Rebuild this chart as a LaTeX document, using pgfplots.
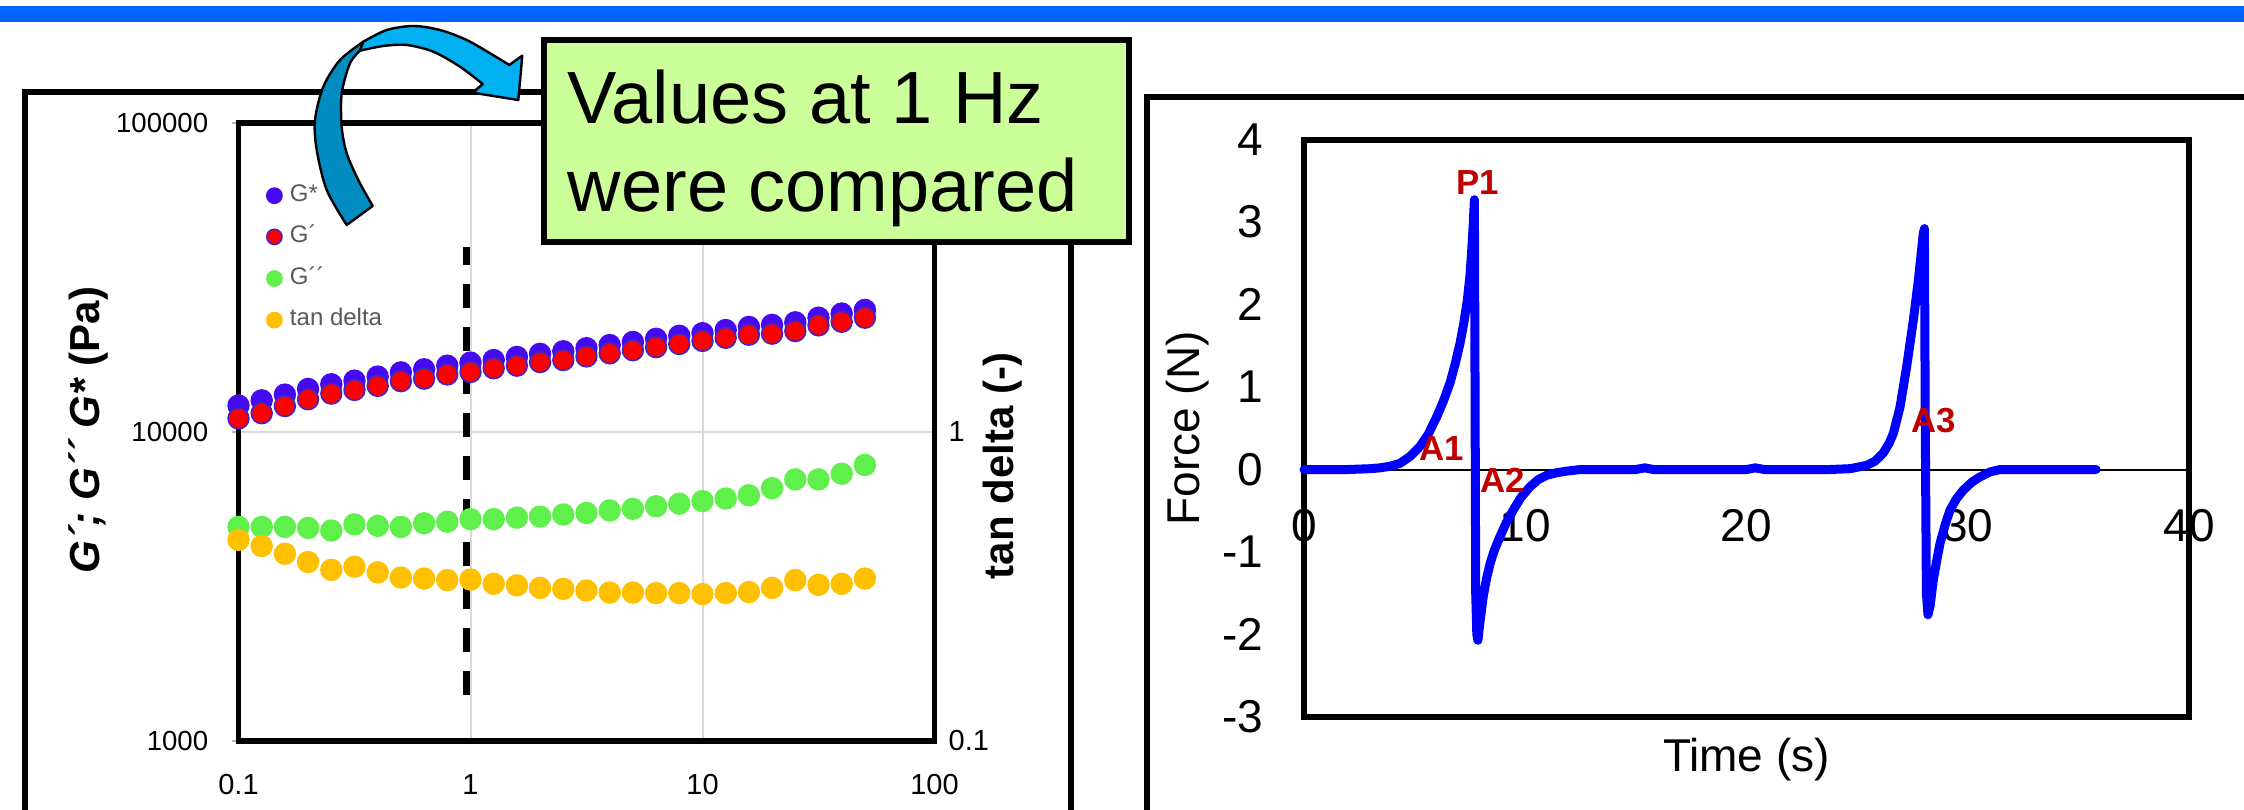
\documentclass[border=0pt]{standalone}
\usepackage{pgfplots}
\pgfplotsset{compat=1.18}
\usepackage{fontspec}
\setmainfont{Liberation Sans}
\definecolor{band}{RGB}{0,102,255}
\definecolor{gstar}{RGB}{70,10,240}
\definecolor{gprime}{RGB}{255,0,0}
\definecolor{gpedge}{RGB}{60,40,200}
\definecolor{gdd}{RGB}{95,240,75}
\definecolor{tanc}{RGB}{255,192,0}
\definecolor{callout}{RGB}{204,255,153}
\definecolor{arrowlight}{RGB}{0,176,240}
\definecolor{arrowdark}{RGB}{0,140,192}
\definecolor{lbl}{RGB}{192,0,0}
\definecolor{gridc}{RGB}{217,217,217}
\definecolor{legtext}{RGB}{89,89,89}

\pgfplotstableread{
x G Gp Gdd tan
0.1000 12180 11060 4930 0.4477
0.1259 12660 11500 4930 0.4276
0.1585 13210 12130 4930 0.4036
0.1995 13780 12760 4893 0.3795
0.2512 14270 13310 4799 0.3581
0.3162 14660 13680 5025 0.3665
0.3981 15110 14100 4968 0.3513
0.5012 15590 14600 4930 0.3381
0.6310 15950 14880 5064 0.3355
0.7943 16390 15350 5123 0.3317
1.0000 16770 15640 5222 0.3330
1.2590 17090 16070 5222 0.3227
1.5850 17490 16390 5283 0.3190
1.9950 17900 16830 5324 0.3130
2.5120 18250 17090 5407 0.3106
3.1620 18670 17560 5470 0.3070
3.9810 19110 17970 5575 0.3023
5.0120 19560 18390 5640 0.3023
6.3100 20020 18820 5749 0.3011
7.9430 20480 19260 5860 0.3011
10.000 20880 19710 5974 0.2988
12.590 21370 20170 6090 0.3011
15.850 21870 20640 6240 0.3035
19.950 22210 20800 6580 0.3130
25.120 22640 21210 7025 0.3317
31.620 23430 22130 7025 0.3202
39.810 24170 22730 7328 0.3227
50.120 24830 23430 7824 0.3355
}\rheo

\begin{document}
\begin{tikzpicture}
\useasboundingbox (0,0) rectangle (561pt,-202.5pt);
\begin{scope}[x=0.25pt,y=-0.25pt]
\fill[band] (0,6) rectangle (2244,22);
\draw[line width=1.5pt] (24.5,900) -- (24.5,92) -- (1071,92) -- (1071,900);
\draw[line width=1.6pt] (1147,900) -- (1147,97) -- (2300,97);
\end{scope}

% ---------- left panel ----------
\begin{axis}[
  at={(59.625pt,-185.25pt)}, anchor=south west,
  width=174pt, height=154.5pt, scale only axis,
  xmode=log, ymode=log, xmin=0.1, xmax=100, ymin=1000, ymax=100000,
  xtick={0.1,1,10,100}, xticklabels={0.1,1,10,100},
  ytick={1000,10000,100000}, yticklabels={1000,10000,100000},
  xminorticks=false, yminorticks=false,
  grid=major, major grid style={draw=gridc, line width=0.5pt},
  axis line style={line width=1.4pt},
  ytick pos=left, xtick pos=bottom,
  tick align=outside, major tick length=1.75pt,
  tick style={draw=gray!60, line width=0.5pt},
  xtick style={draw=none},
  /pgf/number format/assume math mode=true,
  xticklabel style={font=\fontsize{7.25}{8}\selectfont, yshift=-3pt},
  yticklabel style={font=\fontsize{6.9}{8}\selectfont, xshift=-2.3pt},
  ylabel={{\bfseries\itshape G´; G´´ G*} \textbf{(Pa)}},
  every axis y label/.style={at={(axis description cs:-0.2162,0.503)}, anchor=center, rotate=90, font=\fontsize{10.5}{12}\selectfont},
  legend image code/.code={\draw[#1,mark size=1.9pt] plot coordinates {(0pt,0pt)};},
  legend cell align=left,
  legend style={draw=none, fill=none, at={(axis description cs:0.0395,0.915)}, anchor=north west,
    font=\fontsize{6}{7}\selectfont, row sep=0.5pt, column sep=0pt, inner sep=0pt, nodes={text=legtext}},
  clip=false,
]
\addplot[only marks, mark=*, mark size=2.6pt, color=gstar, mark options={fill=gstar, draw=gstar}] table[x=x, y=G] {\rheo};
\addlegendentry{G*}
\addplot[only marks, mark=*, mark size=2.6pt, color=gpedge, mark options={fill=gprime, draw=gpedge, line width=0.4pt}] table[x=x, y=Gp] {\rheo};
\addlegendentry{G´}
\addplot[only marks, mark=*, mark size=2.6pt, color=gdd, mark options={fill=gdd, draw=gdd}] table[x=x, y=Gdd] {\rheo};
\addlegendentry{G´´}
\addlegendimage{only marks, mark=*, color=tanc, mark options={fill=tanc, draw=tanc}}
\addlegendentry{tan delta}
\draw[line width=1.75pt, dash pattern=on 6pt off 4.75pt] (axis cs:0.962,1411) -- (axis cs:0.962,39700);
\end{axis}

\begin{axis}[
  at={(59.625pt,-185.25pt)}, anchor=south west,
  width=174pt, height=154.5pt, scale only axis,
  xmode=log, ymode=log, xmin=0.1, xmax=100, ymin=0.1, ymax=10,
  axis x line=none, axis y line*=right,
  ytick={0.1,1}, yticklabels={0.1,1},
  yminorticks=false, major tick length=0pt,
  axis line style={line width=1.4pt},
  /pgf/number format/assume math mode=true,
  tick label style={font=\fontsize{7.25}{8}\selectfont},
  ylabel={\textbf{tan delta (-)}},
  every axis y label/.style={at={(axis description cs:1.0985,0.445)}, anchor=center, rotate=90, font=\fontsize{10.5}{12}\selectfont},
  clip=false,
]
\addplot[only marks, mark=*, mark size=2.6pt, color=tanc, mark options={fill=tanc, draw=tanc}] table[x=x, y=tan] {\rheo};
\end{axis}

% ---------- right panel ----------
\begin{axis}[
  at={(326pt,-179.25pt)}, anchor=south west,
  width=221.25pt, height=144.375pt, scale only axis,
  xmin=0, xmax=40, ymin=-3, ymax=4,
  xtick={0,10,20,30,40}, xticklabels={0,10,20,30,40},
  ytick={-3,-2,-1,0,1,2,3,4}, yticklabels={-3,-2,-1,0,1,2,3,4},
  major tick length=0pt,
  axis line style={line width=1.5pt},
  /pgf/number format/assume math mode=true,
  tick label style={font=\fontsize{11.5}{13}\selectfont},
  xticklabel style={yshift=55.4pt},
  yticklabel style={xshift=-6.7pt},
  xlabel={Time (s)}, ylabel={Force (N)},
  every axis x label/.style={at={(axis description cs:0.5,-0.073)}, anchor=center, font=\fontsize{11.5}{13}\selectfont},
  every axis y label/.style={at={(axis description cs:-0.131,0.5)}, anchor=center, rotate=90, font=\fontsize{11.5}{13}\selectfont},
  clip=false,
]
\draw[black, line width=0.5pt] (axis cs:0,0) -- (axis cs:40,0);
\addplot[blue, line width=2.25pt, line join=round, line cap=round] coordinates {
(0,0) (1,0) (2,0) (3,0.01) (3.43,0.02) (3.9,0.04) (4.34,0.075) (4.8,0.16) (5.24,0.28) (5.6,0.42)
(6.0,0.64) (6.3,0.83) (6.6,1.05) (6.85,1.3) (7.05,1.53) (7.22,1.77) (7.38,2.05) (7.5,2.35) (7.58,2.66)
(7.65,2.98) (7.7,3.27) (7.73,1.0) (7.76,-1.5) (7.81,-2.0) (7.86,-2.07) (7.95,-1.85) (8.10,-1.54)
(8.25,-1.32) (8.41,-1.14) (8.6,-0.98) (8.86,-0.81) (9.15,-0.64) (9.46,-0.49) (9.8,-0.34) (10.21,-0.21)
(10.6,-0.12) (10.97,-0.07) (11.4,-0.04) (11.87,-0.02) (12.5,0) (15,0) (15.4,0.02) (15.8,0) (20,0) (20.4,0.02)
(20.8,0) (23.77,0) (24.68,0.01) (25.43,0.05) (25.8,0.1) (26.18,0.2) (26.45,0.32) (26.64,0.44)
(26.94,0.76) (27.24,1.25) (27.54,1.81) (27.77,2.30) (27.99,2.86) (28.04,2.92) (28.08,0.5) (28.13,-1.5)
(28.2,-1.76) (28.3,-1.65) (28.44,-1.34) (28.6,-1.1) (28.75,-0.89) (29.0,-0.65) (29.2,-0.49) (29.5,-0.35)
(29.8,-0.25) (30.2,-0.15) (30.55,-0.09) (31.0,-0.03) (31.46,0) (35.8,0)};
\begin{scope}[every node/.style={text=lbl, font=\bfseries\fontsize{8.7}{10}\selectfont, inner sep=0pt, anchor=center}]
\node at (axis cs:7.86,3.48) {P1};
\node at (axis cs:6.22,0.26) {A1};
\node at (axis cs:8.99,-0.127) {A2};
\node at (axis cs:28.47,0.59) {A3};
\end{scope}
\end{axis}

% ---------- callout and arrow ----------
\begin{scope}[x=0.25pt,y=-0.25pt]
\draw[line width=1.5pt, fill=callout] (544,40) rectangle (1129,242);
\node[anchor=base west, inner sep=0pt, font=\fontsize{18.5}{22}\selectfont] at (567,124) {Values at 1 Hz};
\node[anchor=base west, inner sep=0pt, font=\fontsize{18.5}{22}\selectfont] at (567,212) {were compared};
\filldraw[fill=arrowdark, draw=black, line width=0.6pt, line join=round]
  plot[smooth] coordinates {(363.3,41.7) (340,60) (323.3,86.7) (315,120) (316.7,150) (326.7,190) (346.7,225)}
  -- plot[smooth] coordinates {(372.7,206) (358.3,180) (346.7,153.3) (341.7,126.7) (341.7,93.3) (350,63.3) (360,50.7)}
  -- cycle;
\filldraw[fill=arrowlight, draw=black, line width=0.6pt, line join=round]
  plot[smooth] coordinates {(363.3,41.7) (386.7,30) (413.3,26) (440,30) (466.7,40) (490,53.3) (509.3,65)}
  -- (522.3,55.7) -- (518.3,100) -- (472.7,92.7) --
  plot[smooth] coordinates {(482.7,84) (460,66.7) (433.3,51.7) (406.7,45) (383.3,46) (360,50.7)}
  -- cycle;
\end{scope}
\end{tikzpicture}
\end{document}
